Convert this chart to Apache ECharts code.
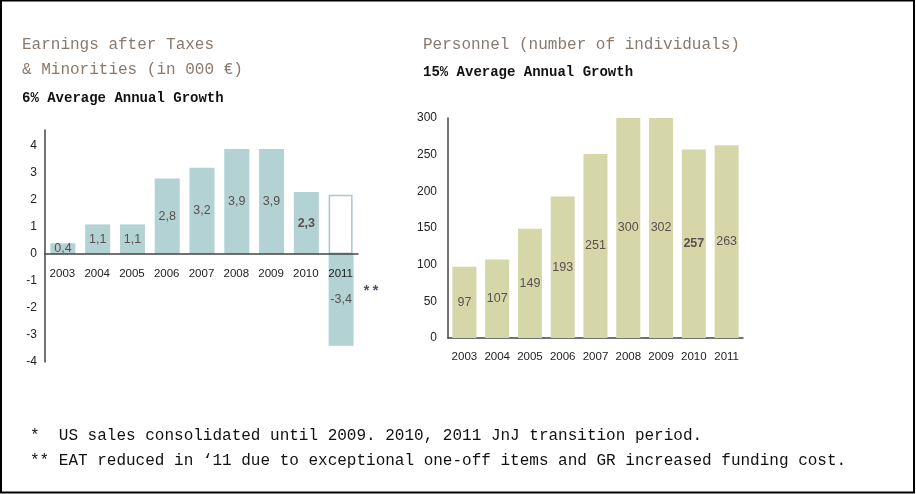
<!DOCTYPE html>
<html>
<head>
<meta charset="utf-8">
<script src="https://cdn.jsdelivr.net/npm/echarts@6/dist/echarts.min.js"></script>
<style>
html,body{margin:0;padding:0;background:#fff;}
#c{width:916px;height:494px;}
</style>
</head>
<body>
<div id="c"></div>
<script>
const years = ['2003','2004','2005','2006','2007','2008','2009','2010','2011'];
const eatValues = [0.4, 1.1, 1.1, 2.8, 3.2, 3.9, 3.9, 2.3, -3.4];
const eatGhost = [null, null, null, null, null, null, null, null, 2.2];
const staffValues = [97, 107, 149, 193, 251, 300, 302, 257, 263];
const eatTicks = [-4, -3, -2, -1, 0, 1, 2, 3, 4];
const staffTicks = [0, 50, 100, 150, 200, 250, 300];
const boldIndex = 7;

const labelColor = '#5b5050';
const teal = '#b2d2d4';
const olive = '#d6d7a9';
const mono = '"Liberation Mono","DejaVu Sans Mono",monospace';
const sans = '"Liberation Sans",Arial,sans-serif';

const eatMax = 4.6;
const leftTop = 130, leftBottomY = 362;
const leftHeight = leftBottomY - leftTop;
const zeroOffset = -(leftHeight * (0 - eatTicks[0]) / (eatMax - eatTicks[0]));

const chart = echarts.init(document.getElementById('c'), null, {renderer:'canvas'});

function fmtComma(v){ return String(v).replace('.', ','); }

chart.setOption({
  animation:false,
  backgroundColor:'#fff',
  grid:[
    {left:45, right:916-358, top:leftTop, bottom:494-leftBottomY},
    {left:448, right:916-743, top:118, bottom:494-338}
  ],
  xAxis:[
    {type:'category', gridIndex:0, data:years, position:'bottom', offset:zeroOffset, z:10,
     axisLine:{onZero:false, lineStyle:{color:'#444', width:1.5}},
     axisTick:{show:false},
     axisLabel:{color:'#222', fontFamily:sans, fontSize:11.5, margin:14, interval:0}},
    {type:'category', gridIndex:1, data:years,
     axisLine:{lineStyle:{color:'#444', width:1.5}},
     axisTick:{show:false},
     axisLabel:{color:'#222', fontFamily:sans, fontSize:11.5, margin:13, interval:0}}
  ],
  yAxis:[
    {type:'value', gridIndex:0, min:eatTicks[0], max:eatMax, interval:1,
     splitLine:{show:false}, axisTick:{show:false},
     axisLine:{show:true, lineStyle:{color:'#444', width:1.5}},
     axisLabel:{color:'#222', fontFamily:sans, fontSize:12, margin:8, showMaxLabel:false,
       formatter:function(v){ return eatTicks.indexOf(v) >= 0 ? String(v) : ''; }}},
    {type:'value', gridIndex:1, min:staffTicks[0], max:staffTicks[staffTicks.length-1], interval:50,
     splitLine:{show:false}, axisTick:{show:false},
     axisLine:{show:true, lineStyle:{color:'#444', width:1.5}},
     axisLabel:{color:'#222', fontFamily:sans, fontSize:12, margin:11}}
  ],
  series:[
    {type:'bar', xAxisIndex:0, yAxisIndex:0, barWidth:25, barGap:'-100%',
     itemStyle:{color:teal},
     label:{show:true, position:'inside', color:labelColor, fontFamily:sans, fontSize:12.5,
       formatter:function(p){ return fmtComma(p.value); }},
     data:eatValues.map(function(v,i){
       return i === boldIndex ? {value:v, label:{fontWeight:'bold'}} : v;
     })},
    {type:'bar', xAxisIndex:0, yAxisIndex:0, barWidth:24, barGap:'-100%',
     itemStyle:{color:'#fff', borderColor:'#a6c9cb', borderWidth:1.5},
     data:eatGhost},
    {type:'bar', xAxisIndex:1, yAxisIndex:1, barWidth:24,
     itemStyle:{color:olive},
     label:{show:true, position:'inside', color:labelColor, fontFamily:sans, fontSize:12.5},
     data:staffValues.map(function(v,i){
       return i === boldIndex ? {value:v, label:{fontWeight:'bold'}} : v;
     })}
  ],
  graphic:[
    {type:'rect', shape:{x:1, y:0.5, width:913, height:492}, style:{fill:'none', stroke:'#000', lineWidth:2}, silent:true},
    {type:'text', left:22, top:37, style:{text:'Earnings after Taxes', font:'16px '+mono, fill:'#8a796d'}},
    {type:'text', left:22, top:62, style:{text:'& Minorities (in 000 €)', font:'16px '+mono, fill:'#8a796d'}},
    {type:'text', left:22, top:91, style:{text:'6% Average Annual Growth', font:'bold 14px '+mono, fill:'#111'}},
    {type:'text', left:423, top:37, style:{text:'Personnel (number of individuals)', font:'16px '+mono, fill:'#8a796d'}},
    {type:'text', left:423, top:65, style:{text:'15% Average Annual Growth', font:'bold 14px '+mono, fill:'#111'}},
    {type:'text', left:362, top:285, style:{text:'**', font:'bold 15px '+mono, fill:'#5a4a6a'}},
    {type:'text', left:30, top:428, style:{text:'*  US sales consolidated until 2009. 2010, 2011 JnJ transition period.', font:'16px '+mono, fill:'#111'}},
    {type:'text', left:30, top:453, style:{text:'** EAT reduced in \u201811 due to exceptional one-off items and GR increased funding cost.', font:'16px '+mono, fill:'#111'}}
  ]
});
</script>
</body>
</html>
